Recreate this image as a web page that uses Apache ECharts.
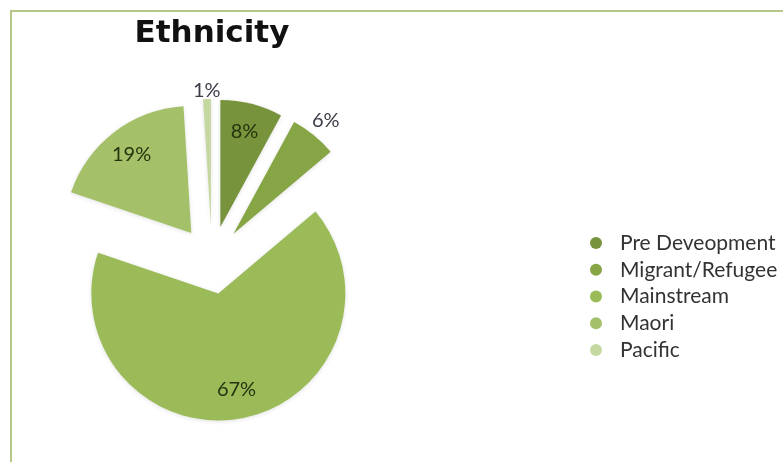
<!DOCTYPE html>
<html><head><meta charset="utf-8">
<script src="https://cdn.jsdelivr.net/npm/echarts@6/dist/echarts.min.js"></script>
<style>html,body{margin:0;padding:0;background:#fff}#c{width:783px;height:462px}</style>
</head><body><div id="c"></div>
<script>
const categories = ['Pre Deveopment', 'Migrant/Refugee', 'Mainstream', 'Maori', 'Pacific'];
const values = [8, 6, 67, 19, 1];
const colors = ['#77933c', '#86a544', '#9bbb59', '#a4c16a', '#c6d8a2'];
// label placement groups (radius factor relative to slice radius, x2 since inside labels sit mid-radius)
const labelGroups = [
  {show: [true, false, true, true, false], factor: 1.5, color: '#25340f'},
  {show: [false, true, false, false, false], factor: 2.25, color: '#3c3c48'},
  {show: [false, false, false, false, true], factor: 2.08, color: '#3c3c48'}
];

const chart = echarts.init(document.getElementById('c'), null, {renderer: 'canvas'});
const center = [212, 260];
const R = 127;
const off = 34;

function mk(showArr, color) {
  return categories.map((n, i) => ({
    name: n, value: values[i], selected: true,
    itemStyle: {color: color || colors[i]},
    label: {show: showArr ? showArr[i] : false}
  }));
}
const base = {
  type: 'pie', center, startAngle: 90, clockwise: true,
  selectedMode: 'multiple', selectedOffset: off, animation: false, silent: true,
  labelLine: {show: false}, emphasis: {disabled: true}
};
const series = [
  Object.assign({}, base, {
    radius: [0, R],
    label: {show: false},
    itemStyle: {shadowBlur: 4, shadowColor: 'rgba(0,0,0,0.12)', shadowOffsetY: 1},
    select: {itemStyle: {}},
    data: mk(null)
  })
].concat(labelGroups.map(g => Object.assign({}, base, {
  radius: [0, R * g.factor],
  label: {position: 'inside', formatter: '{c}%', fontFamily: 'Lato', fontSize: 20, color: g.color},
  select: {itemStyle: {color: 'rgba(0,0,0,0)'}},
  itemStyle: {color: 'rgba(0,0,0,0)'},
  data: mk(g.show, 'rgba(0,0,0,0)')
})));

chart.setOption({
  backgroundColor: '#ffffff',
  animation: false,
  color: colors,
  title: {
    text: 'Ethnicity', left: 212, top: 18, textAlign: 'center', padding: 0,
    textStyle: {fontFamily: 'DejaVu Sans', fontWeight: 'bold', fontSize: 31, color: '#111'}
  },
  legend: {
    data: categories, orient: 'vertical', left: 590, top: 232.5, padding: 0,
    icon: 'circle', itemWidth: 12, itemHeight: 12, itemGap: 5.75,
    selectedMode: false,
    textStyle: {fontFamily: 'Lato', fontSize: 21, color: '#333333', lineHeight: 21, padding: [0, 0, 0, 13]}
  },
  graphic: [{
    type: 'rect', shape: {x: 11, y: 11, width: 800, height: 500},
    style: {fill: 'none', stroke: '#b5c689', lineWidth: 2}, silent: true, z: -1
  }],
  series
});
</script></body></html>
